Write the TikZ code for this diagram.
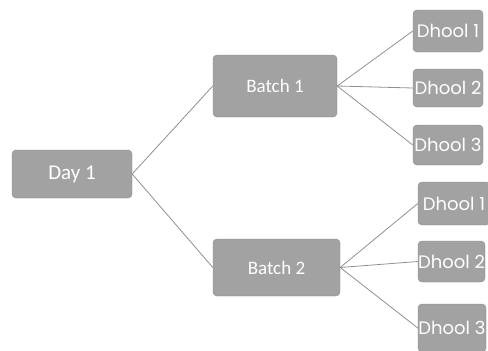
\documentclass[tikz,border=0pt]{standalone}
\usepackage{fontspec}
\setmainfont{Carlito}
\newfontfamily\dhoolfont{Poppins}
\definecolor{boxgray}{HTML}{A2A2A2}
\definecolor{linegray}{HTML}{909090}
\begin{document}
\begin{tikzpicture}[x=1pt,y=-1pt,
  box/.style={draw=boxgray!85!black, line width=0.4pt, fill=boxgray, rounded corners=4pt, inner sep=0pt, text=white},
  link/.style={draw=linegray, line width=0.8pt}]
\useasboundingbox (0,0) rectangle (488,351);
\node[box, minimum width=120, minimum height=48, font=\fontsize{21}{21}\selectfont] (day) at (72,174) {Day 1};
\node[box, minimum width=124, minimum height=62, font=\fontsize{19}{19}\selectfont] (b1) at (275,86) {Batch 1};
\node[box, minimum width=127, minimum height=57, font=\fontsize{19}{19}\selectfont] (b2) at (276.5,267.5) {Batch 2};
\tikzset{dh/.style={box, font=\dhoolfont\fontsize{18}{18}\selectfont}}
\node[dh, minimum width=70, minimum height=42] (d1a) at (448,31) {Dhool 1};
\node[dh, minimum width=70, minimum height=38] (d2a) at (448,88) {Dhool 2};
\node[dh, minimum width=70, minimum height=40] (d3a) at (448,145) {Dhool 3};
\node[dh, minimum width=72, minimum height=43] (d1b) at (454,203.5) {Dhool 1};
\node[dh, minimum width=67, minimum height=41] (d2b) at (451.5,261.5) {Dhool 2};
\node[dh, minimum width=68, minimum height=48] (d3b) at (452,328) {Dhool 3};
\draw[link] (day.east) -- (b1.west);
\draw[link] (day.east) -- (b2.west);
\draw[link] (b1.east) -- (d1a.west);
\draw[link] (b1.east) -- (d2a.west);
\draw[link] (b1.east) -- (d3a.west);
\draw[link] (b2.east) -- (d1b.west);
\draw[link] (b2.east) -- (d2b.west);
\draw[link] (b2.east) -- (d3b.west);
\end{tikzpicture}
\end{document}
